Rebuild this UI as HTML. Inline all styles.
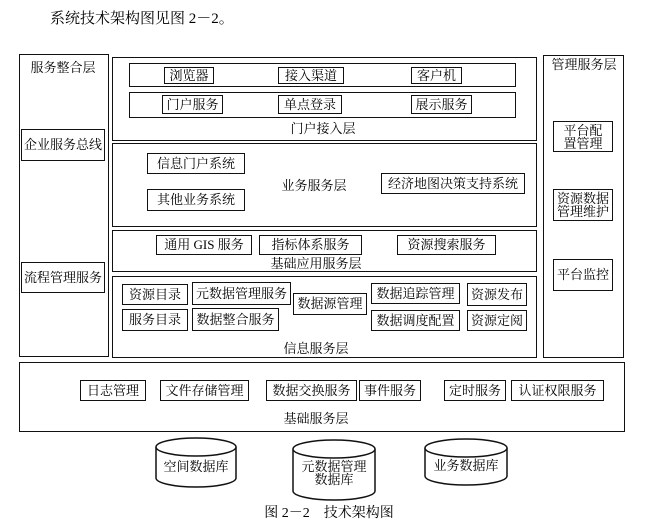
<!DOCTYPE html>
<html><head><meta charset="utf-8"><style>
body{margin:0;width:657px;height:531px;background:#fff;position:relative;overflow:hidden;font-family:"Liberation Serif","Noto Serif CJK SC",serif;color:#000}
.b{position:absolute;border:1.5px solid #111;box-sizing:border-box}
.t{position:absolute;border:1.5px solid #111;box-sizing:border-box;font-size:13px;display:flex;align-items:center;justify-content:center;text-align:center;line-height:14px;white-space:nowrap}
.l{position:absolute;font-size:13px;white-space:nowrap;transform:translateX(-50%);line-height:15px}
</style></head><body>
<div class="l" style="top:12px;font-size:15px;transform:none;left:50px">系统技术架构图见图 2－2。</div>

<div class="b" style="left:19px;top:54px;width:90px;height:303px"></div>
<div class="l" style="left:63px;top:60px">服务整合层</div>
<div class="t" style="left:21px;top:129px;width:84px;height:32px">企业服务总线</div>
<div class="t" style="left:21px;top:262px;width:84px;height:31px">流程管理服务</div>

<div class="b" style="left:543px;top:55px;width:81px;height:303px"></div>
<div class="l" style="left:584px;top:57px">管理服务层</div>
<div class="t" style="left:553px;top:121px;width:60px;height:31px;line-height:13px">平台配<br>置管理</div>
<div class="t" style="left:553px;top:189px;width:60px;height:32px;line-height:13px">资源数据<br>管理维护</div>
<div class="t" style="left:553px;top:259px;width:60px;height:32px">平台监控</div>

<div class="b" style="left:112px;top:57px;width:425px;height:84px"></div>
<div class="b" style="left:129px;top:63px;width:387px;height:24px"></div>
<div class="b" style="left:129px;top:92px;width:387px;height:26px"></div>
<div class="t" style="left:164px;top:67px;width:50px;height:17px">浏览器</div>
<div class="t" style="left:278px;top:67px;width:66px;height:17px">接入渠道</div>
<div class="t" style="left:411px;top:67px;width:51px;height:17px">客户机</div>
<div class="t" style="left:162px;top:95px;width:61px;height:19px">门户服务</div>
<div class="t" style="left:278px;top:95px;width:64px;height:19px">单点登录</div>
<div class="t" style="left:411px;top:95px;width:61px;height:19px">展示服务</div>
<div class="l" style="left:323px;top:121px">门户接入层</div>

<div class="b" style="left:112px;top:143px;width:425px;height:84px"></div>
<div class="t" style="left:147px;top:153px;width:98px;height:21px">信息门户系统</div>
<div class="t" style="left:147px;top:189px;width:98px;height:22px">其他业务系统</div>
<div class="l" style="left:314px;top:178px">业务服务层</div>
<div class="t" style="left:381px;top:173px;width:144px;height:21px">经济地图决策支持系统</div>

<div class="b" style="left:112px;top:230px;width:425px;height:42px"></div>
<div class="t" style="left:156px;top:235px;width:96px;height:20px">通用 GIS 服务</div>
<div class="t" style="left:259px;top:235px;width:103px;height:20px">指标体系服务</div>
<div class="t" style="left:397px;top:235px;width:99px;height:20px">资源搜索服务</div>
<div class="l" style="left:316px;top:256px">基础应用服务层</div>

<div class="b" style="left:112px;top:276px;width:425px;height:82px"></div>
<div class="t" style="left:122px;top:284px;width:66px;height:21px">资源目录</div>
<div class="t" style="left:192px;top:282px;width:99px;height:23px">元数据管理服务</div>
<div class="t" style="left:293px;top:293px;width:74px;height:22px">数据源管理</div>
<div class="t" style="left:371px;top:283px;width:89px;height:21px">数据追踪管理</div>
<div class="t" style="left:467px;top:283px;width:60px;height:23px">资源发布</div>
<div class="t" style="left:122px;top:309px;width:66px;height:22px">服务目录</div>
<div class="t" style="left:192px;top:308px;width:87px;height:23px">数据整合服务</div>
<div class="t" style="left:371px;top:310px;width:89px;height:21px">数据调度配置</div>
<div class="t" style="left:467px;top:310px;width:60px;height:21px">资源定阅</div>
<div class="l" style="left:316px;top:341px">信息服务层</div>

<div class="b" style="left:19px;top:362px;width:606px;height:70px"></div>
<div class="t" style="left:80px;top:380px;width:66px;height:21px">日志管理</div>
<div class="t" style="left:160px;top:380px;width:89px;height:21px">文件存储管理</div>
<div class="t" style="left:266px;top:380px;width:91px;height:21px">数据交换服务</div>
<div class="t" style="left:359px;top:380px;width:62px;height:21px">事件服务</div>
<div class="t" style="left:444px;top:380px;width:62px;height:21px">定时服务</div>
<div class="t" style="left:511px;top:380px;width:93px;height:21px">认证权限服务</div>
<div class="l" style="left:316px;top:411px">基础服务层</div>

<svg style="position:absolute;left:0;top:0" width="657" height="531">
<g fill="#fff" stroke="#111" stroke-width="1.5">
<path d="M156 447 V478 A40 9 0 0 0 236 478 V447"/><ellipse cx="196" cy="447" rx="40" ry="9"/>
<path d="M293 449 V491 A41 9 0 0 0 375 491 V449"/><ellipse cx="334" cy="449" rx="41" ry="9"/>
<path d="M425 448 V476 A41 9 0 0 0 507 476 V448"/><ellipse cx="466" cy="448" rx="41" ry="9"/>
</g></svg>
<div class="l" style="left:196px;top:459px">空间数据库</div>
<div class="l" style="left:334px;top:460px;text-align:center;line-height:13px">元数据管理<br>数据库</div>
<div class="l" style="left:466px;top:458px">业务数据库</div>

<div class="l" style="left:329px;top:506px;font-size:14px">图 2－2　技术架构图</div>
</body></html>
